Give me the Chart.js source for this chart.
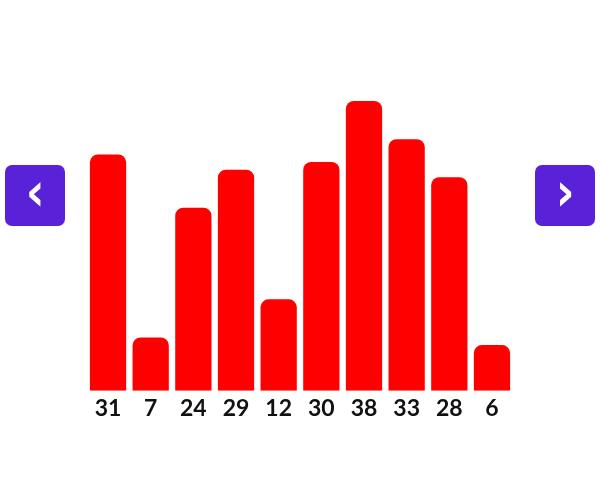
<!DOCTYPE html>
<html>
<head>
<meta charset="utf-8">
<script src="https://cdn.jsdelivr.net/npm/chart.js@4"></script>
<style>
  html, body { margin: 0; padding: 0; background: #ffffff; }
  #wrap { position: relative; width: 600px; height: 496px; }
  #c { position: absolute; left: 0; top: 0; }
  .nav {
    position: absolute; top: 165px; width: 60px; height: 61px;
    background: #5a22d8; border-radius: 7px; color: #fff;
    font-family: "DejaVu Sans", sans-serif; font-weight: bold; font-size: 54px;
    display: flex; align-items: center; justify-content: center; line-height: 1;
  }
  .nav span { display: block; transform: translateY(-4px) scaleX(0.85); }
  #prev { left: 5px; }
  #next { left: 535px; }
</style>
</head>
<body>
<div id="wrap">
  <canvas id="c" width="600" height="496"></canvas>
  <div class="nav" id="prev"><span>‹</span></div>
  <div class="nav" id="next"><span>›</span></div>
</div>
<script>
const categories = ["A", "B", "C", "D", "E", "F", "G", "H", "I", "J"];
const values = [31, 7, 24, 29, 12, 30, 38, 33, 28, 6];
const tickLabels = values.map(String);

new Chart(document.getElementById('c'), {
  type: 'bar',
  data: {
    labels: categories,
    datasets: [{
      data: values,
      backgroundColor: '#ff0000',
      borderRadius: 8,
      borderSkipped: 'bottom',
      barPercentage: 0.85,
      categoryPercentage: 1
    }]
  },
  options: {
    responsive: false,
    animation: false,
    devicePixelRatio: 1,
    layout: { padding: { left: 86.7, right: 86.7, top: 101, bottom: 69.6 } },
    plugins: { legend: { display: false }, tooltip: { enabled: false } },
    scales: {
      x: {
        grid: { display: false, drawTicks: false },
        border: { display: false },
        ticks: {
          padding: 4,
          color: '#111111',
          font: { family: 'Lato', size: 23, weight: 'bold' },
          callback: (v, i) => tickLabels[i]
        }
      },
      y: {
        display: false,
        min: 0,
        max: 38
      }
    }
  }
});
</script>
</body>
</html>
